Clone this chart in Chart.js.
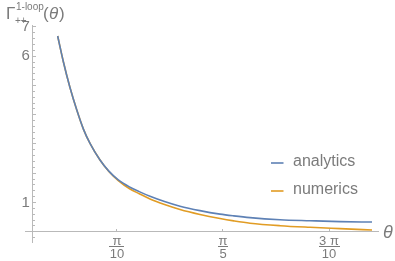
<!DOCTYPE html>
<html><head><meta charset="utf-8">
<script src="https://cdn.jsdelivr.net/npm/chart.js@4"></script>
<style>html,body{margin:0;padding:0;background:#fff}</style>
</head><body>
<canvas id="c" width="395" height="261"></canvas>
<script>
// ---- data ----
const theta     = [0.1383, 0.155, 0.175, 0.195, 0.2149, 0.235, 0.2638, 0.290, 0.318, 0.3527, 0.380, 0.412, 0.455, 0.5009, 0.560, 0.6195, 0.660, 0.7084, 0.7973, 0.8862, 0.9751, 1.0700];
const analytics = [6.69,   5.82,  4.92,  4.16,  3.50,   3.00,  2.45,   2.07,  1.77,  1.52,   1.37,  1.21,  1.03,  0.87,   0.72,  0.60,   0.54,  0.48,   0.41,   0.375,  0.345,  0.330];
const numerics  = [6.69,   5.82,  4.92,  4.16,  3.50,   3.00,  2.45,   2.06,  1.75,  1.46,   1.30,  1.12,  0.93,  0.76,   0.59,  0.45,   0.37,  0.29,   0.205,  0.150,  0.105,  0.058];
const seriesNames = ['analytics', 'numerics'];
const seriesColors = ['#5E81B5', '#E19C24'];
const xTickValues = [Math.PI / 10, Math.PI / 5, 3 * Math.PI / 10];
const xTickNumerators = ['π', 'π', '3 π'];
const xTickDenominators = ['10', '5', '10'];
const yTickValues = [1, 2, 3, 4, 5, 6, 7];
const yLabelValues = [1, 6, 7];
const yMinorTickValues = [];
for (let k = -1; k <= 35; k++) { if (k % 5 !== 0) yMinorTickValues.push(k / 5); }

const axisColor = '#b9b9b9';
const textColor = '#7b7b7b';
const FONT = '"Liberation Sans", Arial, sans-serif';
const X_MIN = 0.0415, X_MAX = 1.0877, Y_MIN = -0.376, Y_MAX = 7.067;
const Y_AXIS_AT = 0.0652, Y_LABELS_AT = 0.0560;

const pts = arr => theta.map((t, i) => ({x: t, y: arr[i]}));

const decor = {
  id: 'decor',
  afterDraw(chart) {
    const ctx = chart.ctx, xs = chart.scales.x, ys = chart.scales.y;
    ctx.save();
    ctx.fillStyle = textColor;
    // x tick fractions
    const y0 = ys.getPixelForValue(0);
    xTickValues.forEach((v, i) => {
      const px = xs.getPixelForValue(v);
      ctx.font = '13px ' + FONT;
      ctx.textAlign = 'center';
      ctx.textBaseline = 'alphabetic';
      ctx.fillText(xTickNumerators[i], px, y0 + 13);
      ctx.fillText(xTickDenominators[i], px, y0 + 26.5);
      const w = Math.max(ctx.measureText(xTickNumerators[i]).width, ctx.measureText(xTickDenominators[i]).width) + 1;
      ctx.fillRect(Math.round(px - w / 2), Math.round(y0 + 14), Math.round(w), 1);
    });
    // x axis title
    ctx.font = 'italic 18px ' + FONT;
    ctx.textAlign = 'left';
    ctx.textBaseline = 'middle';
    ctx.fillText('θ', 383, y0 + 1.5);
    // y axis title
    ctx.textBaseline = 'alphabetic';
    ctx.font = '17px ' + FONT;
    ctx.fillText('Γ', 6, 18.5);
    ctx.font = '10px ' + FONT;
    ctx.fillText('++', 15, 23.5);
    ctx.fillText('1-loop', 16, 9.5);
    ctx.font = '17px ' + FONT;
    ctx.fillText('(', 43, 18.5);
    ctx.font = 'italic 17px ' + FONT;
    ctx.fillText('θ', 49, 18.5);
    ctx.font = '17px ' + FONT;
    ctx.fillText(')', 59, 18.5);
    // legend
    ctx.font = '16px ' + FONT;
    ctx.textBaseline = 'middle';
    chart.data.datasets.forEach((ds, i) => {
      const ly = 163 + i * 28;
      ctx.strokeStyle = ds.borderColor;
      ctx.lineWidth = 1.6;
      ctx.beginPath(); ctx.moveTo(271, ly); ctx.lineTo(283.5, ly); ctx.stroke();
      ctx.fillStyle = textColor;
      ctx.fillText(ds.label, 293, ly - 1);
    });
    ctx.restore();
  }
};

new Chart(document.getElementById('c'), {
  type: 'line',
  data: {
    datasets: [
      {label: seriesNames[0], data: pts(analytics), borderColor: seriesColors[0]},
      {label: seriesNames[1], data: pts(numerics), borderColor: seriesColors[1]}
    ]
  },
  options: {
    responsive: false,
    animation: false,
    devicePixelRatio: 1,
    layout: {padding: {left: 25, right: 17, top: 25, bottom: 18.3}},
    elements: {
      point: {radius: 0},
      line: {borderWidth: 1.6, cubicInterpolationMode: 'monotone', fill: false}
    },
    plugins: {legend: {display: false}, tooltip: {enabled: false}},
    scales: {
      x: {
        type: 'linear', min: X_MIN, max: X_MAX, position: {y: 0},
        border: {display: true, color: axisColor, width: 1},
        grid: {display: true, drawOnChartArea: false, drawTicks: true, tickLength: -3, color: axisColor},
        ticks: {display: false},
        afterBuildTicks: s => { s.ticks = xTickValues.map(v => ({value: v})); }
      },
      y: {
        type: 'linear', min: Y_MIN, max: Y_MAX, position: {x: Y_AXIS_AT},
        border: {display: true, color: axisColor, width: 1},
        grid: {display: true, drawOnChartArea: false, drawTicks: true, tickLength: -4, color: axisColor},
        ticks: {display: false},
        afterBuildTicks: s => { s.ticks = yTickValues.map(v => ({value: v})); }
      },
      yMinor: {
        type: 'linear', min: Y_MIN, max: Y_MAX, position: {x: Y_AXIS_AT},
        border: {display: false},
        grid: {display: true, drawOnChartArea: false, drawTicks: true, tickLength: -2, color: axisColor},
        ticks: {display: false},
        afterBuildTicks: s => { s.ticks = yMinorTickValues.map(v => ({value: v})); }
      },
      yLabels: {
        type: 'linear', min: Y_MIN, max: Y_MAX, position: {x: Y_LABELS_AT},
        border: {display: false},
        grid: {display: false},
        ticks: {display: true, color: textColor, font: {family: FONT, size: 15}, padding: 0, autoSkip: false, callback: v => String(v)},
        afterBuildTicks: s => { s.ticks = yLabelValues.map(v => ({value: v})); }
      }
    }
  },
  plugins: [decor]
});
</script>
</body></html>
